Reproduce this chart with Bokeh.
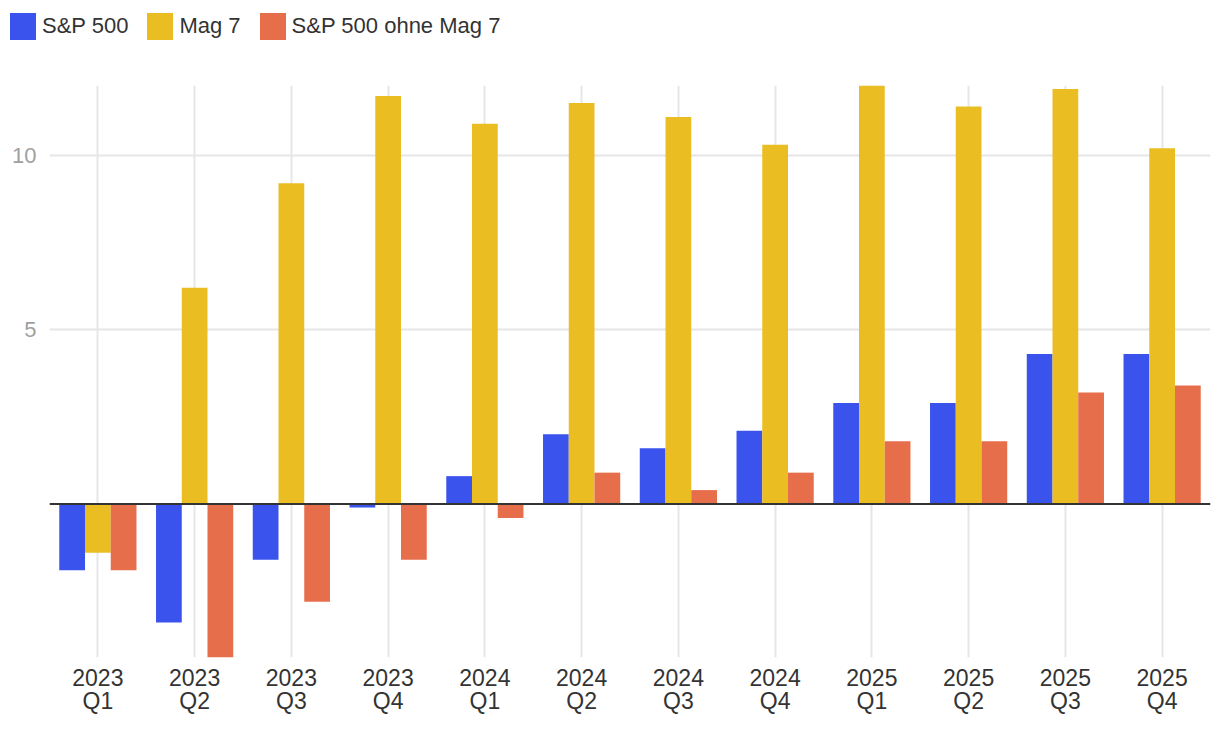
from bokeh.plotting import figure
from bokeh.layouts import column
from bokeh.models import ColumnDataSource, Range1d, FixedTicker, Span, Div
from bokeh.transform import dodge
from bokeh.embed import file_html
from bokeh.resources import INLINE
import html

quarters = ["2023\nQ1", "2023\nQ2", "2023\nQ3", "2023\nQ4",
            "2024\nQ1", "2024\nQ2", "2024\nQ3", "2024\nQ4",
            "2025\nQ1", "2025\nQ2", "2025\nQ3", "2025\nQ4"]
sp500 = [-1.9, -3.4, -1.6, -0.1, 0.8, 2.0, 1.6, 2.1, 2.9, 2.9, 4.3, 4.3]
mag7 = [-1.4, 6.2, 9.2, 11.7, 10.9, 11.5, 11.1, 10.3, 12.0, 11.4, 11.9, 10.2]
sp500_ohne = [-1.9, -4.4, -2.8, -1.6, -0.4, 0.9, 0.4, 0.9, 1.8, 1.8, 3.2, 3.4]
series_names = ["S&P 500", "Mag 7", "S&P 500 ohne Mag 7"]
colors = ["#3a53ec", "#eabd22", "#e76e4b"]
y_ticks = [5, 10]

FONT = "Liberation Sans"
W = 1212
idx = list(range(len(quarters)))
src = ColumnDataSource(dict(x=idx, sp=sp500, mag=mag7, ohne=sp500_ohne))

# ---- legend strip (HTML text) ----
parts = []
for i, (n, c) in enumerate(zip(series_names, colors)):
    ml = 10 if i == 0 else 19
    parts.append(
        f'<span style="display:inline-block;width:26px;height:27px;background:{c};'
        f'margin-left:{ml}px;margin-right:6px;flex:none"></span>'
        f'<span style="white-space:nowrap">{html.escape(n)}</span>')
legend_html = (
    f'<div style="display:flex;align-items:center;height:50px;padding-top:2px;'
    f'box-sizing:border-box;font-family:\'{FONT}\';font-size:22px;color:#333333;'
    f'line-height:1">' + "".join(parts) + '</div>')
lg = Div(text=legend_html, width=W, height=50, margin=(0, 0, 0, 0))

# ---- main chart ----
p = figure(width=W, height=682, output_backend="svg", toolbar_location=None,
           x_range=Range1d(-0.5, len(quarters) - 0.5), y_range=Range1d(-4.4, 12.0),
           min_border_left=49, min_border_right=2, min_border_bottom=75, min_border_top=35,
           margin=(0, 0, 0, 0))
p.outline_line_color = None

bw = 0.266
for off, col, c in zip([-bw, 0, bw], ["sp", "mag", "ohne"], colors):
    p.vbar(x=dodge("x", off), top=col, bottom=0, width=bw, source=src,
           fill_color=c, line_color=None)

p.add_layout(Span(location=0, dimension="width", line_color="#333333", line_width=2))

p.xgrid.ticker = FixedTicker(ticks=idx)
p.xgrid.grid_line_color = "#e6e6e6"
p.xgrid.grid_line_width = 2
p.ygrid.ticker = FixedTicker(ticks=y_ticks)
p.ygrid.grid_line_color = "#e6e6e6"
p.ygrid.grid_line_width = 2

p.xaxis.ticker = FixedTicker(ticks=idx)
p.xaxis.major_label_overrides = {i: q for i, q in zip(idx, quarters)}
p.xaxis.axis_line_color = None
p.xaxis.major_tick_line_color = None
p.xaxis.minor_tick_line_color = None
p.xaxis.major_label_text_font = FONT
p.xaxis.major_label_text_font_size = "23px"
p.xaxis.major_label_text_color = "#333333"
p.xaxis.major_label_text_line_height = 0.9
p.xaxis.major_label_standoff = 1

p.yaxis.ticker = FixedTicker(ticks=y_ticks)
p.yaxis.axis_line_color = None
p.yaxis.major_tick_line_color = None
p.yaxis.minor_tick_line_color = None
p.yaxis.major_label_text_font = FONT
p.yaxis.major_label_text_font_size = "22px"
p.yaxis.major_label_text_color = "#a0a0a0"
p.yaxis.major_label_standoff = 7

layout = column(lg, p, spacing=0)
open("out.html", "w").write(file_html(layout, INLINE))
